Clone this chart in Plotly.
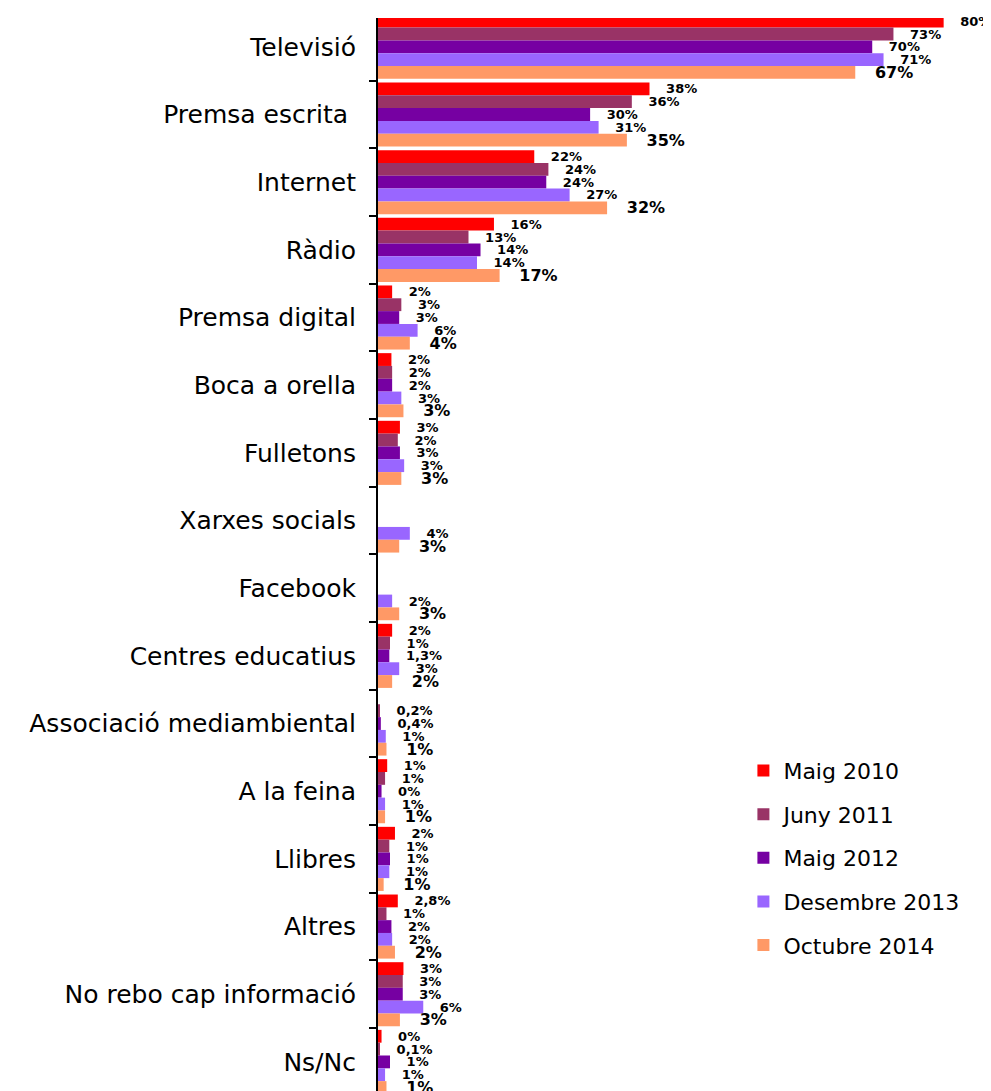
import plotly.graph_objects as go

categories = ["Televisió", "Premsa escrita ", "Internet", "Ràdio", "Premsa digital",
              "Boca a orella", "Fulletons", "Xarxes socials", "Facebook",
              "Centres educatius", "Associació mediambiental", "A la feina",
              "Llibres", "Altres", "No rebo cap informació", "Ns/Nc"]

series_names = ["Maig 2010", "Juny 2011", "Maig 2012", "Desembre 2013", "Octubre 2014"]

maig_2010 = [80, 38.4, 22.1, 16.4, 2.0, 1.9, 3.1, None, None, 2.0, None, 1.3, 2.4, 2.8, 3.6, 0.5]
juny_2011 = [72.9, 35.9, 24.1, 12.8, 3.3, 2.0, 2.8, None, None, 1.7, 0.2, 1.0, 1.6, 1.2, 3.5, 0.2]
maig_2012 = [69.9, 30.0, 23.8, 14.5, 3.0, 2.0, 3.1, None, None, 1.6, 0.4, 0.5, 1.7, 1.9, 3.5, 1.7]
des_2013 = [71.5, 31.2, 27.1, 14.0, 5.6, 3.3, 3.7, 4.5, 2.0, 3.0, 1.1, 1.0, 1.6, 2.0, 6.4, 1.0]
oct_2014 = [67.5, 35.2, 32.4, 17.2, 4.5, 3.6, 3.3, 3.0, 3.0, 2.0, 1.2, 1.0, 0.8, 2.4, 3.1, 1.2]

lab_2010 = ["80%", "38%", "22%", "16%", "2%", "2%", "3%", "", "", "2%", "", "1%", "2%", "2,8%", "3%", "0%"]
lab_2011 = ["73%", "36%", "24%", "13%", "3%", "2%", "2%", "", "", "1%", "0,2%", "1%", "1%", "1%", "3%", "0,1%"]
lab_2012 = ["70%", "30%", "24%", "14%", "3%", "2%", "3%", "", "", "1,3%", "0,4%", "0%", "1%", "2%", "3%", "1%"]
lab_2013 = ["71%", "31%", "27%", "14%", "6%", "3%", "3%", "4%", "2%", "3%", "1%", "1%", "1%", "2%", "6%", "1%"]
lab_2014 = ["67%", "35%", "32%", "17%", "4%", "3%", "3%", "3%", "3%", "2%", "1%", "1%", "1%", "2%", "3%", "1%"]

colors = ["#FF0000", "#993366", "#7600A2", "#9966FF", "#FF9966"]

series_values = [maig_2010, juny_2011, maig_2012, des_2013, oct_2014]
series_labels = [lab_2010, lab_2011, lab_2012, lab_2013, lab_2014]

FONT = "DejaVu Sans"

fig = go.Figure()
for i, (name, vals, labs, col) in enumerate(zip(series_names, series_values, series_labels, colors)):
    last = (i == len(series_names) - 1)
    fig.add_trace(go.Bar(
        y=categories, x=vals, name=name, orientation="h",
        marker=dict(color=col, line=dict(width=0)),
        text=labs,
        texttemplate="\u00a0\u00a0\u00a0%{text}",
        textposition="outside",
        constraintext="none",
        cliponaxis=False,
        textfont=dict(family=FONT, size=16 if last else 13, color="black",
                      weight="bold"),
        legendgroup=name,
        hoverinfo="skip",
    ))

fig.update_layout(
    width=983, height=1083,
    margin=dict(l=370, r=12, t=10, b=0),
    paper_bgcolor="white", plot_bgcolor="white",
    barmode="group", bargap=0.053, bargroupgap=0,
    font=dict(family=FONT, color="black"),
    xaxis=dict(range=[0, 85], visible=False),
    yaxis=dict(
        categoryorder="array", categoryarray=categories,
        range=[15.43, -0.426],
        showline=True, linecolor="black", linewidth=2,
        ticks="outside", tickson="boundaries", ticklen=7, tickwidth=2, tickcolor="black",
        tickfont=dict(family=FONT, size=25, color="black"),
        ticklabelstandoff=15,
        showgrid=False, zeroline=False,
    ),
    legend=dict(
        x=0.608, y=0.318, xanchor="left", yanchor="top",
        font=dict(family=FONT, size=22, color="black"),
        tracegroupgap=12, bgcolor="rgba(0,0,0,0)",
    ),
    showlegend=True,
)

fig.write_html("out.html")
